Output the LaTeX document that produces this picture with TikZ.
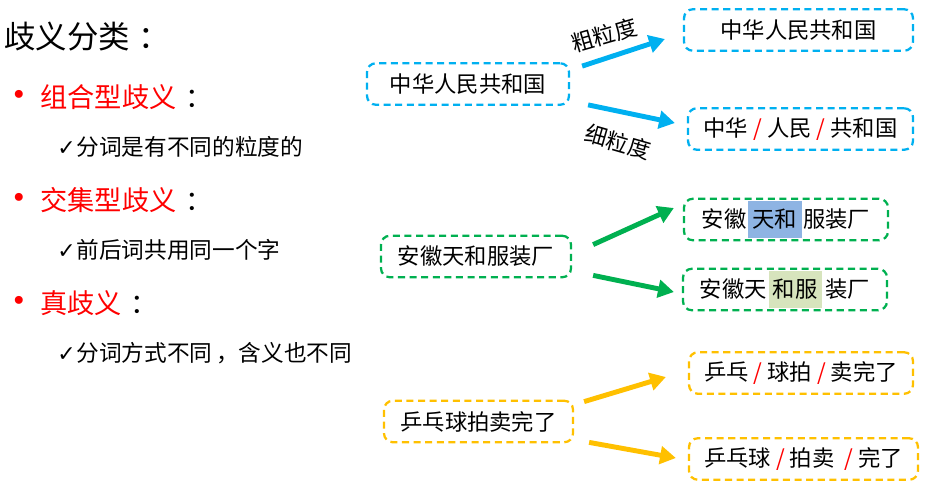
\documentclass[tikz,border=0pt]{standalone}
\usepackage{fontspec}
\setmainfont{Noto Sans CJK SC}
\newfontfamily\symfont{DejaVu Sans}
\usetikzlibrary{arrows.meta,positioning}
\definecolor{lineblue}{HTML}{00B0F0}
\definecolor{linegreen}{HTML}{00B050}
\definecolor{linegold}{HTML}{FFC000}
\definecolor{hlblue}{HTML}{8EB4E3}
\definecolor{hlgreen}{HTML}{D7E4BD}
\newcommand{\boxfont}{\fontsize{12.7}{15}\selectfont}
\newcommand{\cut}{~{\color{red}/}~}
\newcommand{\hl}[2]{{\setlength\fboxsep{2.5pt}\colorbox{#1}{\rule[-3.2pt]{0pt}{16pt}#2}}}

\begin{document}
\begin{tikzpicture}[x=0.02cm,y=-0.02cm,>={Triangle[length=9pt,width=10pt]},
  seg/.style={draw=#1,dash pattern=on 4pt off 2.6pt,line width=1.3pt,rounded corners=5pt,minimum height=0.83cm,inner sep=0pt,font=\boxfont},
  cut/.style={->,draw=#1,line width=2.8pt}]
\useasboundingbox (0,0) rectangle (944,490);
% left: classification list
\node[anchor=west,inner sep=0pt,font=\fontsize{17.9}{21}\selectfont] (title) at (4,37) {歧义分类\hspace{5pt}：};
\foreach \y/\head/\sub [count=\i] in {97/组合型歧义/分词是有不同的粒度的,200/交集型歧义/前后词共用同一个字,303/真歧义/分词方式不同\hspace{2pt}，含义也不同}{
  \node[text=red,inner sep=0pt,font=\symfont\fontsize{15.5}{18}\selectfont] (dot\i) at (19,\y) {•};
  \node[anchor=west,inner sep=0pt,font=\fontsize{15.5}{18}\selectfont] (head\i) at (40,\y) {\textcolor{red}{\head}\hspace{5pt}：};
  \node[anchor=west,inner sep=0pt,font=\fontsize{12.9}{15}\selectfont] (sub\i) at (57,{\y+50}) {{\symfont\fontsize{12.5}{15}\selectfont ✓}\hspace{0.5pt}\sub};
}
% right: segmentation examples
\node[seg=lineblue,minimum width=4.04cm] (s1) at (468,84) {中华人民共和国};
\node[seg=lineblue,minimum width=4.58cm] (t1) at (798.5,30) {中华人民共和国};
\node[seg=lineblue,minimum width=4.5cm] (t2) at (800.5,129) {中华\cut{}人民\cut{}共和国};
\node[seg=linegreen,minimum width=3.8cm] (s2) at (476,256.5) {安徽天和服装厂};
\node[seg=linegreen,minimum width=4.08cm] (t3) at (786,219.5) {安徽\hspace{1pt}\hl{hlblue}{天和}\hspace{1pt}服装厂};
\node[seg=linegreen,minimum width=4.08cm] (t4) at (785,289.5) {安徽天\hspace{1pt}\hl{hlgreen}{和服}\hspace{2pt}装厂};
\node[seg=linegold,minimum width=3.78cm] (s3) at (478.5,421.5) {乒乓球拍卖完了};
\node[seg=linegold,minimum width=4.48cm] (t5) at (801,373) {乒乓\cut{}球拍\cut{}卖完了};
\node[seg=linegold,minimum width=4.58cm] (t6) at (803.5,459) {乒乓球\cut{}拍卖~\cut{}完了};
\draw[cut=lineblue] ([shift={(12,4)}]s1.north east) -- ([shift={(-18,9)}]t1.west);
\draw[cut=lineblue] ([shift={(18,-1)}]s1.south east) -- ([shift={(-12,-6)}]t2.west);
\draw[cut=linegreen] ([shift={(21,10)}]s2.north east) -- ([shift={(-9,-11.5)}]t3.west);
\draw[cut=linegreen] ([shift={(21,-3)}]s2.south east) -- ([shift={(-8,2.5)}]t4.west);
\draw[cut=linegold] ([shift={(10,2)}]s3.north east) -- ([shift={(-22,4)}]t5.west);
\draw[cut=linegold] ([shift={(15,-1)}]s3.south east) -- ([shift={(-12,-1)}]t6.west);
\node[rotate=16,font=\boxfont] (coarse) at (604,35) {粗粒度};
\node[rotate=-16,font=\boxfont] (fine) at (618,142) {细粒度};
\end{tikzpicture}
\end{document}
